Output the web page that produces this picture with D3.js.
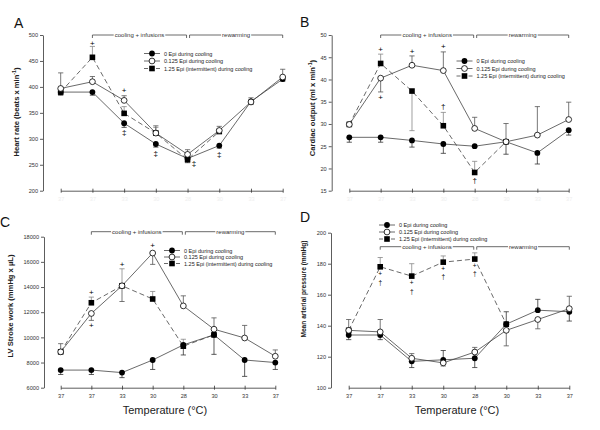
<!DOCTYPE html>
<html><head><meta charset="utf-8">
<script src="https://cdn.jsdelivr.net/npm/d3@7"></script>
<style>
html,body{margin:0;padding:0;background:#fff;}
svg text{font-family:"Liberation Sans",Arial,sans-serif;}
</style></head>
<body>
<svg id="chart" width="600" height="430"></svg>
<script>
// ---------------- DATA ----------------
const categories = ["37","37","33","30","28","30","33","37"];
const seriesNames = ["0 Epi during cooling","0.125 Epi during cooling","1.25 Epi (intermittent) during cooling"];
const phaseLabels = ["cooling + infusions","rewarming"];

// Panel A: heart rate
const hrFilled = [390, 390, 330, 290, 262, 287, 372, 415];
const hrOpen   = [397, 410, 374, 311, 270, 316, 371, 419];
const hrSquare = [390, 457, 349, 311, 260, 314, null, null];
const hrFilledErr = [384, 384, 322, 284, 254, 282, 366, 411];
const hrOpenErr   = [427, 420, 383, 325, 279, 324, 379, 434];
const hrSquareErr = [null, 478, 362, 322, null, null, null, null];
const hrTicks = [200, 250, 300, 350, 400, 450, 500];
const hrMarks = [[1, 485, "+"], [2, 394, "+"], [2, 312, "‡"], [3, 272, "‡"], [4, 253, "‡"], [5, 270, "‡"]];

// Panel B: cardiac output
const coFilled = [27, 27, 26.3, 25.5, 25, 26, 23.5, 28.6];
const coOpen   = [29.9, 40.3, 43.2, 42, 29, 26, 27.5, 31];
const coSquare = [29.9, 43.6, 37.4, 29.6, 19.1, 26, null, null];
const coFilledErr = [25.9, 25.9, 24.8, 23.4, null, 23.2, 21, 27.5];
const coOpenErr   = [null, 37.2, 45.3, 46.2, 31.5, 30.1, 33.9, 34.9];
const coSquareErr = [null, 45.7, 28.5, 32.6, 21.6, null, null, null];
const coTicks = [15, 20, 25, 30, 35, 40, 45, 50];
const coMarks = [[1, 46.9, "+"], [1, 36, "+"], [2, 46.4, "+"], [3, 47.5, "+"], [3, 34.1, "†"], [4, 17.4, "†"]];

// Panel C: LV stroke work
const lvFilled = [7400, 7400, 7200, 8200, 9400, 10200, 8200, 8000];
const lvOpen   = [8850, 11900, 14100, 16700, 12500, 10650, 9950, 8500];
const lvSquare = [8850, 12750, 14100, 13050, 9300, 10200, null, null];
const lvFilledErr = [7050, 7050, 6800, 7450, 8600, 8650, 6900, 7450];
const lvOpenErr   = [9500, 11350, 12850, 15800, 13300, 11550, 10950, 9000];
const lvSquareErr = [null, 13200, 15450, 13650, 9850, null, null, null];
const lvTicks = [6000, 8000, 10000, 12000, 14000, 16000, 18000];
const lvMarks = [[1, 13600, "+"], [1, 11000, "+"], [2, 15850, "+"], [3, 17300, "+"]];

// Panel D: mean arterial pressure
const mapFilled = [134, 134, 117, 118, 119, 141, 150, 149];
const mapOpen   = [137, 136, 119, 116, 123, 137, 144, 151];
const mapSquare = [137, 178, 172, 181, 183, 141, null, null];
const mapFilledErr = [131, 131, 113, 124, 113, 149, 157, 143];
const mapOpenErr   = [144, 144, 122, 114, 126, 127, 138, 159];
const mapSquareErr = [null, 184, 180, 185, 187, null, null, null];
const mapTicks = [100, 120, 140, 160, 180, 200];
const mapMarks = [[1, 173.5, "+"], [1, 168, "†"], [2, 167.5, "+"], [2, 162, "†"], [3, 177, "+"], [3, 171.5, "†"], [4, 179, "+"], [4, 173.5, "†"]];

const yTitles = ["Heart rate (beats x min", "Cardiac output (ml x min", "LV Stroke work (mmHg x µL)", "Mean arterial pressure (mmHg)"];
const xTitle = "Temperature (°C)";
const panelLetters = ["A","B","C","D"];

// ---------------- LAYOUT ----------------
const svg = d3.select("#chart");

const panels = [
  {letter:panelLetters[0], lx:14, ly:28, axX:43, yTop:35, yBot:190.7, xr:[60.7,282.7], ticks:hrTicks,
   filled:hrFilled, open:hrOpen, square:hrSquare, fe:hrFilledErr, oe:hrOpenErr, se:hrSquareErr, marks:hrMarks, mfs:8,
   title:yTitles[0], sup:true, tx:19, ty:112, tsize:7.6, legX:144, legY:53.5, legDy:7.5, brY:35, ghost:true, xt:false},
  {letter:panelLetters[1], lx:300, ly:27, axX:331.7, yTop:35, yBot:190.7, xr:[349.3,568.7], ticks:coTicks,
   filled:coFilled, open:coOpen, square:coSquare, fe:coFilledErr, oe:coOpenErr, se:coSquareErr, marks:coMarks, mfs:8,
   title:yTitles[1], sup:true, tx:315, ty:108, tsize:7.6, legX:456.5, legY:61, legDy:7.5, brY:35, ghost:true, xt:false},
  {letter:panelLetters[2], lx:0, ly:227, axX:44, yTop:236.7, yBot:387.7, xr:[60.7,275.3], ticks:lvTicks,
   filled:lvFilled, open:lvOpen, square:lvSquare, fe:lvFilledErr, oe:lvOpenErr, se:lvSquareErr, marks:lvMarks, mfs:8,
   title:yTitles[2], sup:false, tx:13, ty:306, tsize:7.6, legX:164, legY:250.5, legDy:6.5, brY:231.7, ghost:false, xt:true, xtx:165},
  {letter:panelLetters[3], lx:300, ly:222, axX:331, yTop:232.7, yBot:387.7, xr:[348.7,569.3], ticks:mapTicks,
   filled:mapFilled, open:mapOpen, square:mapSquare, fe:mapFilledErr, oe:mapOpenErr, se:mapSquareErr, marks:mapMarks, mfs:6.5,
   title:yTitles[3], sup:false, tx:306, ty:289, tsize:6.6, legX:379, legY:225, legDy:7, brY:246.7, ghost:false, xt:true, xtx:457}
];

const lineCol = "#444";

function drawMarker(g, type, x, y) {
  if (type === "filled") g.append("circle").attr("cx", x).attr("cy", y).attr("r", 2.9).attr("fill", "#000");
  else if (type === "open") g.append("circle").attr("cx", x).attr("cy", y).attr("r", 2.9).attr("fill", "#fff").attr("stroke", "#000").attr("stroke-width", 0.8);
  else g.append("rect").attr("x", x - 2.8).attr("y", y - 2.8).attr("width", 5.6).attr("height", 5.6).attr("fill", "#000");
}

panels.forEach(p => {
  const g = svg.append("g");
  const x = d3.scalePoint().domain(d3.range(categories.length)).range(p.xr);
  const y = d3.scaleLinear().domain([p.ticks[0], p.ticks[p.ticks.length - 1]]).range([p.yBot, p.yTop]);

  g.append("text").attr("x", p.lx).attr("y", p.ly).attr("font-size", 14).attr("fill", "#111").text(p.letter);

  const ya = g.append("g").attr("transform", `translate(${p.axX},0)`)
    .call(d3.axisLeft(y).tickValues(p.ticks).tickSize(3).tickSizeOuter(0).tickPadding(2).tickFormat(d3.format("d")));
  ya.selectAll("path,line").attr("stroke", "#333").attr("stroke-width", 0.8);
  ya.selectAll("text").attr("font-size", 5.6).attr("fill", "#333").attr("font-family", "Liberation Sans, Arial, sans-serif");

  const xa = g.append("g").attr("transform", `translate(0,${p.yBot})`)
    .call(d3.axisBottom(x).tickSize(3).tickSizeOuter(0).tickPadding(3).tickFormat(i => categories[i]));
  xa.selectAll("path,line").attr("stroke", "#333").attr("stroke-width", 0.8);
  xa.selectAll("line").attr("y1", -2).attr("y2", 2);
  xa.selectAll("text").attr("font-size", 5.6).attr("fill", p.ghost ? "#eeeeee" : "#333").attr("font-family", "Liberation Sans, Arial, sans-serif");

  const t = g.append("text").attr("transform", `translate(${p.tx},${p.ty}) rotate(-90)`)
    .attr("text-anchor", "middle").attr("font-size", p.tsize).attr("font-weight", "bold").attr("fill", "#222");
  t.append("tspan").text(p.title);
  if (p.sup) {
    t.append("tspan").attr("dy", -3).attr("font-size", p.tsize * 0.7).text("-1");
    t.append("tspan").attr("dy", 3).text(")");
  }

  if (p.xt) {
    g.append("text").attr("x", p.xtx).attr("y", 414).attr("text-anchor", "middle").attr("font-size", 11).attr("fill", "#222").text(xTitle);
  }

  const brs = [[x(1), x(4) - 1, phaseLabels[0]], [x(4) + 2, x(7), phaseLabels[1]]];
  brs.forEach(([a, b, lab]) => {
    g.append("path").attr("d", `M${a},${p.brY + 3}V${p.brY}H${b}V${p.brY + 3}`)
      .attr("fill", "none").attr("stroke", "#444").attr("stroke-width", 0.8);
    const cx = (a + b) / 2;
    const tt = g.append("text").attr("x", cx).attr("y", p.brY + 2).attr("text-anchor", "middle")
      .attr("font-size", 6).attr("fill", "#333").text(lab);
    const bb = tt.node().getBBox();
    g.insert("rect", () => tt.node()).attr("x", bb.x - 1).attr("y", p.brY - 1).attr("width", bb.width + 2).attr("height", 2).attr("fill", "#fff");
  });

  const errSets = [[p.square, p.se, "#888"], [p.filled, p.fe, "#333"], [p.open, p.oe, "#555"]];
  errSets.forEach(([vals, errs, col]) => {
    errs.forEach((e, i) => {
      if (e == null || vals[i] == null) return;
      const xx = x(i);
      g.append("line").attr("x1", xx).attr("x2", xx).attr("y1", y(vals[i])).attr("y2", y(e)).attr("stroke", col).attr("stroke-width", 0.8);
      g.append("line").attr("x1", xx - 2.6).attr("x2", xx + 2.6).attr("y1", y(e)).attr("y2", y(e)).attr("stroke", col).attr("stroke-width", 0.8);
    });
  });

  const lineGen = d3.line().defined(d => d[1] != null).x(d => x(d[0])).y(d => y(d[1]));
  const toPts = arr => arr.map((v, i) => [i, v]);
  g.append("path").attr("d", lineGen(toPts(p.square))).attr("fill", "none").attr("stroke", lineCol).attr("stroke-width", 0.8).attr("stroke-dasharray", "5,3");
  g.append("path").attr("d", lineGen(toPts(p.filled))).attr("fill", "none").attr("stroke", lineCol).attr("stroke-width", 0.8);
  g.append("path").attr("d", lineGen(toPts(p.open))).attr("fill", "none").attr("stroke", lineCol).attr("stroke-width", 0.8);

  p.square.forEach((v, i) => { if (v != null) drawMarker(g, "square", x(i), y(v)); });
  p.filled.forEach((v, i) => { if (v != null) drawMarker(g, "filled", x(i), y(v)); });
  p.open.forEach((v, i) => { if (v != null) drawMarker(g, "open", x(i), y(v)); });

  p.marks.forEach(([i, v, s]) => {
    const dx = (p.letter === "A" && i === 4) ? 6.5 : 0;
    g.append("text").attr("x", x(i) + dx).attr("y", y(v) + p.mfs * 0.36).attr("text-anchor", "middle")
      .attr("font-size", p.mfs).attr("fill", "#000").text(s);
  });

  const types = ["filled", "open", "square"];
  types.forEach((tp, k) => {
    const ly = p.legY + k * p.legDy;
    g.append("line").attr("x1", p.legX).attr("x2", p.legX + 16).attr("y1", ly).attr("y2", ly)
      .attr("stroke", lineCol).attr("stroke-width", 0.8).attr("stroke-dasharray", tp === "square" ? "4,2" : null);
    drawMarker(g, tp, p.legX + 8, ly);
    g.append("text").attr("x", p.legX + 20).attr("y", ly + 2).attr("font-size", 5.5).attr("fill", "#222").text(seriesNames[k]);
  });
});
</script>
</body></html>
